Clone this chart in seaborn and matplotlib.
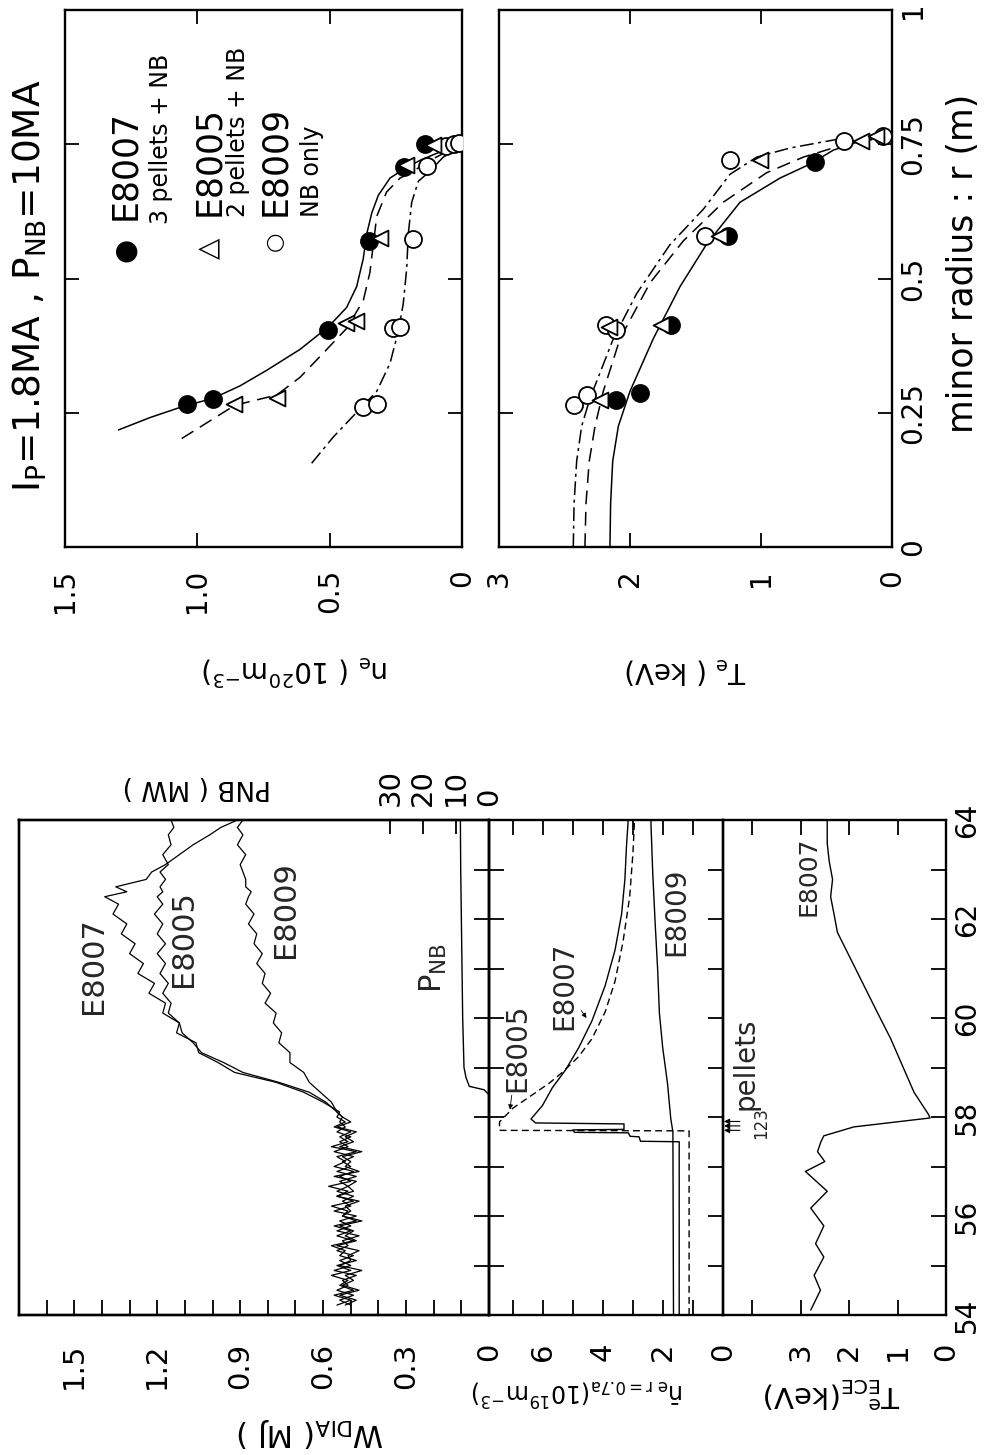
import matplotlib
matplotlib.use("Agg")
import matplotlib.pyplot as plt
import seaborn as sns

# ------------------------------------------------------------------
# Radial profiles (minor radius r in m)
# ------------------------------------------------------------------
NE_E8007_R = [0.267, 0.276, 0.404, 0.570, 0.707, 0.750]
NE_E8007_V = [1.04, 0.94, 0.505, 0.35, 0.22, 0.14]
NE_E8005_R = [0.267, 0.277, 0.417, 0.420, 0.575, 0.712, 0.748]
NE_E8005_V = [0.86, 0.70, 0.44, 0.40, 0.31, 0.21, 0.11]
NE_E8009_R = [0.260, 0.267, 0.407, 0.410, 0.573, 0.710, 0.746, 0.750, 0.752]
NE_E8009_V = [0.373, 0.32, 0.26, 0.234, 0.185, 0.133, 0.06, 0.03, 0.01]

NE_FIT_E8007_R = [0.218, 0.241, 0.261, 0.277, 0.300, 0.329, 0.368, 0.410, 0.446, 0.485,
                  0.537, 0.583, 0.622, 0.655, 0.687, 0.703, 0.720, 0.733, 0.746]
NE_FIT_E8007_V = [1.298, 1.179, 1.059, 0.940, 0.839, 0.738, 0.612, 0.505, 0.436, 0.398,
                  0.373, 0.360, 0.341, 0.316, 0.272, 0.222, 0.159, 0.096, 0.020]
NE_FIT_E8005_R = [0.202, 0.231, 0.264, 0.283, 0.316, 0.355, 0.407, 0.459, 0.511, 0.564,
                  0.616, 0.661, 0.687, 0.700, 0.720, 0.736, 0.746]
NE_FIT_E8005_V = [1.059, 0.965, 0.858, 0.700, 0.612, 0.536, 0.436, 0.373, 0.348, 0.335,
                  0.322, 0.285, 0.234, 0.184, 0.121, 0.058, 0.008]
NE_FIT_E8009_R = [0.156, 0.205, 0.244, 0.290, 0.342, 0.401, 0.453, 0.518, 0.583, 0.642,
                  0.681, 0.700, 0.726, 0.743]
NE_FIT_E8009_V = [0.568, 0.486, 0.411, 0.322, 0.272, 0.241, 0.222, 0.209, 0.203, 0.190,
                  0.165, 0.121, 0.071, 0.008]

TE_E8007_R = [0.274, 0.287, 0.414, 0.580, 0.717]
TE_E8007_V = [2.11, 1.92, 1.69, 1.25, 0.59]
TE_E8005_R = [0.273, 0.410, 0.414, 0.580, 0.720, 0.756, 0.765]
TE_E8005_V = [2.23, 2.16, 1.76, 1.32, 1.01, 0.24, 0.12]
TE_E8009_R = [0.264, 0.283, 0.414, 0.404, 0.580, 0.720, 0.756, 0.765]
TE_E8009_V = [2.43, 2.33, 2.18, 2.11, 1.43, 1.24, 0.37, 0.07]

TE_FIT_E8007_R = [0.0, 0.081, 0.160, 0.225, 0.290, 0.388, 0.485, 0.564, 0.642, 0.687,
                  0.713, 0.739, 0.756, 0.765]
TE_FIT_E8007_V = [2.153, 2.148, 2.132, 2.089, 2.000, 1.822, 1.618, 1.415, 1.160, 0.855,
                  0.626, 0.448, 0.244, 0.041]
TE_FIT_E8005_R = [0.0, 0.081, 0.160, 0.225, 0.290, 0.388, 0.492, 0.570, 0.642, 0.697,
                  0.726, 0.749, 0.759]
TE_FIT_E8005_V = [2.344, 2.336, 2.311, 2.267, 2.204, 2.076, 1.847, 1.593, 1.288, 0.957,
                  0.677, 0.372, 0.143]
TE_FIT_E8009_R = [0.0, 0.081, 0.160, 0.225, 0.277, 0.388, 0.472, 0.563, 0.629, 0.694,
                  0.726, 0.743, 0.759]
TE_FIT_E8009_V = [2.433, 2.427, 2.407, 2.369, 2.305, 2.127, 1.949, 1.695, 1.440, 1.237,
                  1.033, 0.779, 0.422]

# ------------------------------------------------------------------
# Time traces (time in s)
# ------------------------------------------------------------------
W_TIME = [54.2, 54.3, 54.4, 54.5, 54.6, 54.7, 54.8, 54.9, 55.0, 55.1,
          55.2, 55.3, 55.4, 55.5, 55.6, 55.7, 55.8, 55.9, 56.0, 56.1,
          56.2, 56.3, 56.4, 56.5, 56.6, 56.7, 56.8, 56.9, 57.0, 57.1,
          57.2, 57.3, 57.4, 57.5, 57.6, 57.7, 57.8, 57.9, 58.0, 58.1,
          58.3, 58.5, 58.7, 58.9, 59.1, 59.3, 59.5, 59.7, 59.9, 60.1,
          60.3, 60.5, 60.7, 60.9, 61.1, 61.3, 61.5, 61.7, 61.9, 62.1,
          62.3, 62.45, 62.55, 62.65, 62.8, 62.95, 63.1, 63.3, 63.5, 63.7,
          63.85, 64.0]
W_E8007 = [0.55, 0.50, 0.56, 0.49, 0.54, 0.51, 0.57, 0.50, 0.55, 0.48,
           0.54, 0.52, 0.57, 0.49, 0.55, 0.50, 0.56, 0.48, 0.53, 0.51,
           0.57, 0.49, 0.55, 0.51, 0.58, 0.50, 0.54, 0.49, 0.56, 0.52,
           0.55, 0.48, 0.57, 0.51, 0.54, 0.50, 0.56, 0.52, 0.55, 0.54,
           0.60, 0.67, 0.77, 0.92, 0.98, 1.05, 1.06, 1.13, 1.12, 1.18,
           1.17, 1.23, 1.21, 1.27, 1.25, 1.30, 1.28, 1.33, 1.31, 1.36,
           1.34, 1.39, 1.31, 1.35, 1.24, 1.22, 1.17, 1.12, 1.07, 1.01,
           0.97, 0.91]
W_E8005 = [0.52, 0.48, 0.54, 0.47, 0.53, 0.49, 0.52, 0.46, 0.54, 0.50,
           0.51, 0.47, 0.55, 0.48, 0.52, 0.49, 0.54, 0.46, 0.53, 0.50,
           0.52, 0.47, 0.55, 0.49, 0.51, 0.48, 0.56, 0.47, 0.52, 0.50,
           0.53, 0.46, 0.54, 0.49, 0.52, 0.48, 0.55, 0.50, 0.53, 0.55,
           0.59, 0.65, 0.76, 0.89, 0.96, 1.04, 1.07, 1.11, 1.12, 1.16,
           1.15, 1.18, 1.16, 1.19, 1.17, 1.20, 1.17, 1.20, 1.18, 1.21,
           1.18, 1.20, 1.18, 1.19, 1.17, 1.19, 1.16, 1.18, 1.15, 1.16,
           1.14, 1.15]
W_E8009 = [0.50, 0.54, 0.49, 0.55, 0.51, 0.53, 0.48, 0.56, 0.50, 0.54,
           0.49, 0.55, 0.51, 0.53, 0.47, 0.55, 0.50, 0.54, 0.48, 0.56,
           0.50, 0.53, 0.49, 0.55, 0.51, 0.54, 0.48, 0.55, 0.50, 0.53,
           0.49, 0.56, 0.51, 0.54, 0.50, 0.55, 0.52, 0.54, 0.53, 0.55,
           0.57, 0.61, 0.65, 0.67, 0.72, 0.72, 0.76, 0.75, 0.78, 0.77,
           0.81, 0.79, 0.82, 0.81, 0.84, 0.82, 0.85, 0.84, 0.87, 0.85,
           0.88, 0.87, 0.86, 0.88, 0.88, 0.89, 0.90, 0.88, 0.91, 0.89,
           0.91, 0.89]

PNB_TIME = [54.2, 58.45, 58.55, 58.62, 58.8, 59.0, 60.0, 61.0, 62.0, 63.0, 64.0]
PNB_MW = [0.0, 0.0, 1.5, 6.0, 7.0, 7.6, 8.0, 8.2, 8.4, 8.6, 8.7]

NE_T_E8007 = [54.0, 57.50, 57.51, 57.60, 57.61, 57.68, 57.69, 57.74, 57.75, 57.86,
              57.88, 57.96, 58.23, 58.59, 58.95, 59.40, 59.94, 60.65, 61.37, 62.10,
              62.80, 63.44, 64.0]
NE_V_E8007 = [1.46, 1.46, 2.75, 2.80, 3.10, 3.15, 4.95, 5.00, 3.30, 3.30,
              6.25, 6.40, 6.02, 5.69, 5.25, 4.81, 4.37, 3.93, 3.60, 3.38,
              3.27, 3.22, 3.16]
NE_T_E8005 = [54.0, 57.72, 57.73, 57.90, 58.18, 58.45, 58.68, 58.90, 59.22, 59.58,
              60.12, 60.74, 61.55, 62.45, 63.35, 64.0]
NE_V_E8005 = [1.13, 1.13, 7.45, 7.45, 7.00, 6.35, 5.80, 5.36, 4.81, 4.37,
              3.93, 3.60, 3.33, 3.11, 3.00, 2.95]
NE_T_E8009 = [54.0, 57.70, 57.96, 58.68, 59.40, 60.10, 61.00, 61.90, 62.90, 63.90, 64.0]
NE_V_E8009 = [1.65, 1.67, 1.74, 1.85, 2.01, 2.12, 2.18, 2.26, 2.34, 2.40, 2.40]

TE_T_E8007 = [54.1, 54.5, 54.8, 55.17, 55.44, 55.8, 56.16, 56.5, 56.9, 57.1,
              57.3, 57.5, 57.62, 57.8, 57.98, 58.05, 58.5, 58.95, 59.58, 60.1,
              60.65, 61.2, 61.73, 62.1, 62.45, 62.8, 63.17, 63.53, 64.0]
TE_V_E8007 = [2.79, 2.59, 2.72, 2.52, 2.69, 2.52, 2.79, 2.45, 2.90, 2.50,
              2.65, 2.58, 2.52, 1.90, 0.33, 0.36, 0.66, 0.86, 1.14, 1.41,
              1.69, 1.97, 2.24, 2.31, 2.38, 2.34, 2.41, 2.45, 2.45]

PELLET_TIMES = [57.73, 57.82, 57.91]

PROFILE_NE_TICKS = [0, 0.5, 1.0, 1.5]
PROFILE_NE_LABELS = ["0", "0.5", "1.0", "1.5"]
PROFILE_TE_TICKS = [0, 1, 2, 3]
PROFILE_R_TICKS = [0, 0.25, 0.5, 0.75, 1]
PROFILE_R_LABELS = ["0", "0.25", "0.5", "0.75", "1"]
W_TICKS = [0, 0.3, 0.6, 0.9, 1.2, 1.5]
W_LABELS = ["0", "0.3", "0.6", "0.9", "1.2", "1.5"]
PNB_TICKS = [0, 10, 20, 30]
NE_TICKS = [0, 2, 4, 6]
TE_TICKS = [0, 1, 2, 3]
TIME_TICKS = [54, 56, 58, 60, 62, 64]

# ------------------------------------------------------------------
sns.set_theme(style="white")
plt.rcParams["font.family"] = ["DejaVu Sans"]
plt.rcParams["mathtext.fontset"] = "dejavusans"

FW, FH = 985, 1455
fig = plt.figure(figsize=(FW / 100, FH / 100), dpi=100)


def rect(x0, y0, x1, y1):
    return [x0 / FW, 1 - y1 / FH, (x1 - x0) / FW, (y1 - y0) / FH]


def ftext(x, y, s, **kw):
    kw.setdefault("color", "black")
    fig.text(x / FW, 1 - y / FH, s, **kw)


def curve(ax, x, y, ls="-", lw=1.1):
    sns.lineplot(x=x, y=y, sort=False, estimator=None, color="black",
                 linewidth=lw, linestyle=ls, ax=ax)


def pts(ax, x, y, marker, filled, s=150):
    sns.scatterplot(x=x, y=y, marker=marker, s=s,
                    color="black" if filled else "white",
                    edgecolor="black", linewidth=1.3, ax=ax, zorder=3)


def frame(ax):
    for sp in ax.spines.values():
        sp.set_visible(True)
        sp.set_color("black")
        sp.set_linewidth(1.7)
    ax.set_xlabel("")
    ax.set_ylabel("")
    ax.set_facecolor("none")


TICK = dict(direction="in", color="black", width=1.3, labelcolor="black")

# ---------------- density profile ----------------
ax_pn = fig.add_axes(rect(65, 10, 462, 547))
curve(ax_pn, NE_FIT_E8007_V, NE_FIT_E8007_R, "-")
curve(ax_pn, NE_FIT_E8005_V, NE_FIT_E8005_R, (0, (9, 5)))
curve(ax_pn, NE_FIT_E8009_V, NE_FIT_E8009_R, (0, (9, 3, 2, 3)))
pts(ax_pn, NE_E8009_V, NE_E8009_R, "o", False)
pts(ax_pn, NE_E8007_V, NE_E8007_R, "o", True)
pts(ax_pn, NE_E8005_V, NE_E8005_R, "<", False, s=130)
ax_pn.set_xlim(1.5, 0)
ax_pn.set_ylim(0, 1)
ax_pn.set_xticks(PROFILE_NE_TICKS, PROFILE_NE_LABELS)
ax_pn.set_yticks([0.25, 0.5, 0.75])
ax_pn.set_yticklabels([])
ax_pn.tick_params(axis="x", bottom=True, top=True, length=10, labelsize=20,
                  labelrotation=90, pad=16, **TICK)
ax_pn.tick_params(axis="y", left=True, right=True, length=10, labelleft=False, **TICK)
frame(ax_pn)

# ---------------- temperature profile ----------------
ax_pt = fig.add_axes(rect(499, 10, 892, 547))
curve(ax_pt, TE_FIT_E8007_V, TE_FIT_E8007_R, "-")
curve(ax_pt, TE_FIT_E8005_V, TE_FIT_E8005_R, (0, (9, 5)))
curve(ax_pt, TE_FIT_E8009_V, TE_FIT_E8009_R, (0, (9, 3, 2, 3)))
pts(ax_pt, TE_E8009_V, TE_E8009_R, "o", False)
pts(ax_pt, TE_E8007_V, TE_E8007_R, "o", True)
pts(ax_pt, TE_E8005_V, TE_E8005_R, "<", False, s=130)
ax_pt.set_xlim(3, 0)
ax_pt.set_ylim(0, 1)
ax_pt.set_xticks(PROFILE_TE_TICKS, [str(v) for v in PROFILE_TE_TICKS])
ax_pt.set_yticks(PROFILE_R_TICKS, PROFILE_R_LABELS)
ax_pt.tick_params(axis="x", bottom=True, top=True, length=10, labelsize=20,
                  labelrotation=90, pad=16, **TICK)
ax_pt.tick_params(axis="y", left=True, right=True, labelleft=False, labelright=True,
                  length=10, labelsize=20, labelrotation=90, pad=5, **TICK)
for lbl in ax_pt.get_yticklabels():
    lbl.set_va("center")
frame(ax_pt)

# ---------------- stored energy + PNB ----------------
T0, T1 = 54, 64
ax_w = fig.add_axes(rect(19, 820, 489, 1315))
curve(ax_w, W_E8009, W_TIME, "-", 0.9)
curve(ax_w, W_E8005, W_TIME, "-", 0.9)
curve(ax_w, W_E8007, W_TIME, "-", 0.9)
ax_w.set_xlim(1.70, 0)
ax_w.set_ylim(T0, T1)
ax_w.set_xticks(W_TICKS, W_LABELS)
ax_w.set_xticks([0.1, 0.2, 0.4, 0.5, 0.7, 0.8, 1.0, 1.1, 1.3, 1.4, 1.6], minor=True)
ax_w.set_yticks(list(range(55, 64)))
ax_w.set_yticklabels([])
ax_w.tick_params(axis="x", which="both", bottom=True, top=False, length=11,
                 labelsize=21, labelrotation=90, pad=20, **TICK)
ax_w.tick_params(axis="y", left=False, right=True, length=11, labelleft=False, **TICK)
frame(ax_w)

ax_p = ax_w.twiny()
curve(ax_p, PNB_MW, PNB_TIME, "-", 1.0)
ax_p.set_xlim(1.70 / 0.0119, 0)
ax_p.set_ylim(T0, T1)
ax_p.set_xticks(PNB_TICKS, [str(v) for v in PNB_TICKS])
ax_p.tick_params(axis="x", top=True, bottom=False, labeltop=True, labelbottom=False,
                 length=10, labelsize=21, labelrotation=90, pad=10, **TICK)
ax_p.tick_params(axis="y", left=False, right=False, labelleft=False, labelright=False)
frame(ax_p)

# ---------------- line-averaged density ----------------
ax_n = fig.add_axes(rect(489, 820, 723, 1315))
curve(ax_n, NE_V_E8009, NE_T_E8009, "-", 1.0)
curve(ax_n, NE_V_E8007, NE_T_E8007, "-", 1.0)
curve(ax_n, NE_V_E8005, NE_T_E8005, (0, (5, 3)), 1.0)
ax_n.set_xlim(7.8, 0)
ax_n.set_ylim(T0, T1)
ax_n.set_xticks(NE_TICKS, [str(v) for v in NE_TICKS])
ax_n.set_xticks([1, 3, 5, 7], minor=True)
ax_n.set_yticks(list(range(55, 64)))
ax_n.set_yticklabels([])
ax_n.tick_params(axis="x", which="both", bottom=True, top=True, length=11,
                 labelsize=21, labelrotation=90, pad=20, **TICK)
ax_n.tick_params(axis="y", left=True, right=True, length=11, labelleft=False, **TICK)
frame(ax_n)

# ---------------- ECE temperature ----------------
ax_t = fig.add_axes(rect(723, 820, 946, 1315))
curve(ax_t, TE_V_E8007, TE_T_E8007, "-", 1.0)
ax_t.set_xlim(4.6, 0)
ax_t.set_ylim(T0, T1)
ax_t.set_xticks(TE_TICKS, [str(v) for v in TE_TICKS])
ax_t.set_xticks([4], minor=True)
ax_t.set_yticks(TIME_TICKS, [str(v) for v in TIME_TICKS])
ax_t.set_yticks([55, 57, 59, 61, 63], minor=True)
ax_t.tick_params(axis="x", which="both", bottom=True, top=True, length=11,
                 labelsize=21, labelrotation=90, pad=20, **TICK)
ax_t.tick_params(axis="y", which="both", left=False, right=True, labelleft=False,
                 labelright=True, length=11, labelsize=20, labelrotation=90, pad=5, **TICK)
for lbl in ax_t.get_yticklabels():
    lbl.set_va("center")
frame(ax_t)

for t in PELLET_TIMES:
    ax_t.annotate("", xy=(4.58, t), xytext=(4.25, t),
                  arrowprops=dict(arrowstyle="-|>", lw=0.8, color="black",
                                  mutation_scale=8, shrinkA=0, shrinkB=0))

# ---------------- annotations ----------------
rot = dict(rotation=90, ha="center", va="center")
ax_w.text(1.43, 61.05, "E8007", size=22, **rot)
ax_w.text(1.105, 61.6, "E8005", size=22, **rot)
ax_w.text(0.735, 62.2, "E8009", size=22, **rot)
ax_w.text(0.20, 61.0, r"P$_{\rm NB}$", size=22, **rot)

ax_n.annotate("E8005", xy=(7.1, 58.15), xytext=(6.85, 59.4), size=20, **rot,
              arrowprops=dict(arrowstyle="-|>", lw=0.6, color="black",
                              mutation_scale=7, shrinkA=0, shrinkB=0))
ax_n.annotate("E8007", xy=(4.55, 60.0), xytext=(5.3, 60.65), size=20, **rot,
              arrowprops=dict(arrowstyle="-|>", lw=0.6, color="black",
                              mutation_scale=7, shrinkA=0, shrinkB=0))
ax_n.text(1.55, 62.14, "E8009", size=20, **rot)
ax_t.text(2.83, 62.86, "E8007", size=18, **rot)
ax_t.text(4.14, 58.14, "pellets", size=20, rotation=90, rotation_mode="anchor",
          ha="left", va="center")
ax_t.text(3.81, 57.55, "123", size=12, rotation=90, rotation_mode="anchor",
          ha="left", va="center")

# legend of profile panel
anc = dict(rotation=90, rotation_mode="anchor", ha="left", va="center")
ftext(125, 250, "\u25CF", size=20, rotation=90, ha="center", va="center")
ftext(125, 220, "E8007", size=25, **anc)
ftext(161, 224, "3 pellets + NB", size=17, **anc)
ftext(209, 248, "\u25B3", size=20, rotation=90, ha="center", va="center")
ftext(209, 216, "E8005", size=25, **anc)
ftext(238, 217, "2 pellets + NB", size=17, **anc)
ftext(275, 241, "\u25CB", size=16, rotation=90, ha="center", va="center")
ftext(275, 216, "E8009", size=25, **anc)
ftext(312, 217, "NB only", size=17, **anc)

# titles and axis labels
ftext(30, 286, r"I$_{\rm P}$=1.8MA , P$_{\rm NB}$=10MA", size=27, **rot)
ftext(963, 263, "minor radius : r (m)", size=25, **rot)
ftext(295, 670, r"n$_{\rm e}$ ( 10$^{20}$m$^{-3}$)", size=20, rotation=180,
      ha="center", va="center")
ftext(685, 670, r"T$_{\rm e}$ ( keV)", size=20, rotation=180, ha="center", va="center")
ftext(197, 787, "PNB ( MW )", size=19, rotation=180, ha="center", va="center")
ftext(311, 1432, r"W$_{\rm DIA}$( MJ )", size=22, rotation=180, ha="center", va="center")
ftext(578, 1392, r"$\bar{\rm n}_{\rm e\ r=0.7a}$(10$^{19}$m$^{-3}$)", size=17,
      rotation=180, ha="center", va="center")
ftext(832, 1392, r"T$^{\rm e}_{\rm ECE}$(keV)", size=21, rotation=180,
      ha="center", va="center")

fig.savefig("out.png", dpi=100, facecolor="white")
